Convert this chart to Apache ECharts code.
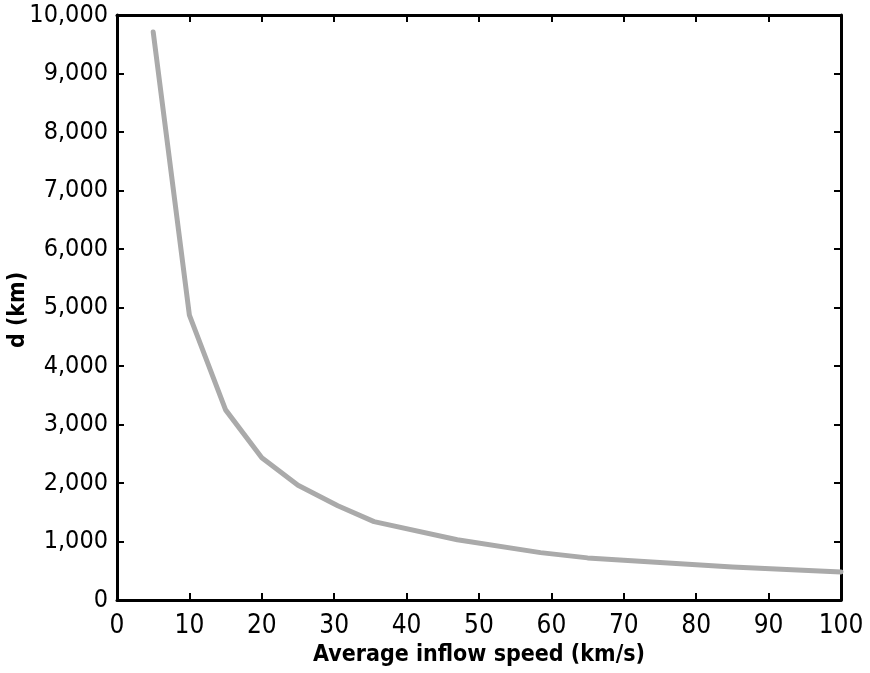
<!DOCTYPE html>
<html>
<head>
<meta charset="UTF-8">
<title>Inflow speed</title>
<script src="https://cdn.jsdelivr.net/npm/echarts@6/dist/echarts.min.js"></script>
<style>
  html, body { margin: 0; padding: 0; background: #fff; }
  #chart { width: 870px; height: 673px; }
</style>
</head>
<body>
<div id="chart"></div>
<script>
// values
var speed = [5, 10, 15, 20, 25, 30.5, 35.5, 47, 58.5, 65, 85, 100];
var dist  = [9710, 4870, 3250, 2430, 1960, 1610, 1340, 1030, 810, 720, 565, 480];
var xTicks = [0, 100, 10];
var yTicks = [0, 10000, 1000];
var xTitle = 'Average inflow speed (km/s)';
var yTitle = 'd (km)';

var font = '"Liberation Sans Narrow", "DejaVu Sans Condensed", "Liberation Sans", sans-serif';

var chart = echarts.init(document.getElementById('chart'), null, { renderer: 'canvas' });

var axisLine = { show: true, onZero: false, lineStyle: { color: '#000', width: 3 } };
var axisTick = { show: true, inside: true, length: 7, lineStyle: { color: '#000', width: 2 } };

chart.setOption({
  animation: false,
  grid: { left: 117, right: 29, top: 15, bottom: 73, containLabel: false, outerBoundsMode: 'none' },
  // y title drawn as a rotated text so it sits where the reference has it
  graphic: [{
    type: 'text', x: 18, y: 310, rotation: Math.PI / 2,
    style: {
      text: yTitle, fill: '#000', font: 'bold 23px ' + font,
      textAlign: 'center', textVerticalAlign: 'middle'
    }
  }],
  xAxis: [{
    type: 'value', position: 'bottom',
    min: xTicks[0], max: xTicks[1], interval: xTicks[2],
    axisLine: axisLine, axisTick: axisTick, splitLine: { show: false },
    axisLabel: { color: '#000', fontFamily: font, fontSize: 26, margin: 13 },
    name: xTitle, nameLocation: 'middle', nameGap: 44,
    nameTextStyle: { color: '#000', fontFamily: font, fontSize: 23, fontWeight: 'bold' }
  }, {
    type: 'value', position: 'top',
    min: xTicks[0], max: xTicks[1], interval: xTicks[2],
    axisLine: axisLine, axisTick: axisTick, splitLine: { show: false },
    axisLabel: { show: false }
  }],
  yAxis: [{
    type: 'value', position: 'left',
    min: yTicks[0], max: yTicks[1], interval: yTicks[2],
    axisLine: axisLine, axisTick: axisTick, splitLine: { show: false },
    axisLabel: { color: '#000', fontFamily: font, fontSize: 25, margin: 9 }
  }, {
    type: 'value', position: 'right',
    min: yTicks[0], max: yTicks[1], interval: yTicks[2],
    axisLine: axisLine, axisTick: axisTick, splitLine: { show: false },
    axisLabel: { show: false }
  }],
  series: [{
    type: 'line',
    data: speed.map(function (v, i) { return [v, dist[i]]; }),
    showSymbol: false,
    lineStyle: { color: '#aaaaaa', width: 5, cap: 'round', join: 'round' }
  }]
});
</script>
</body>
</html>
